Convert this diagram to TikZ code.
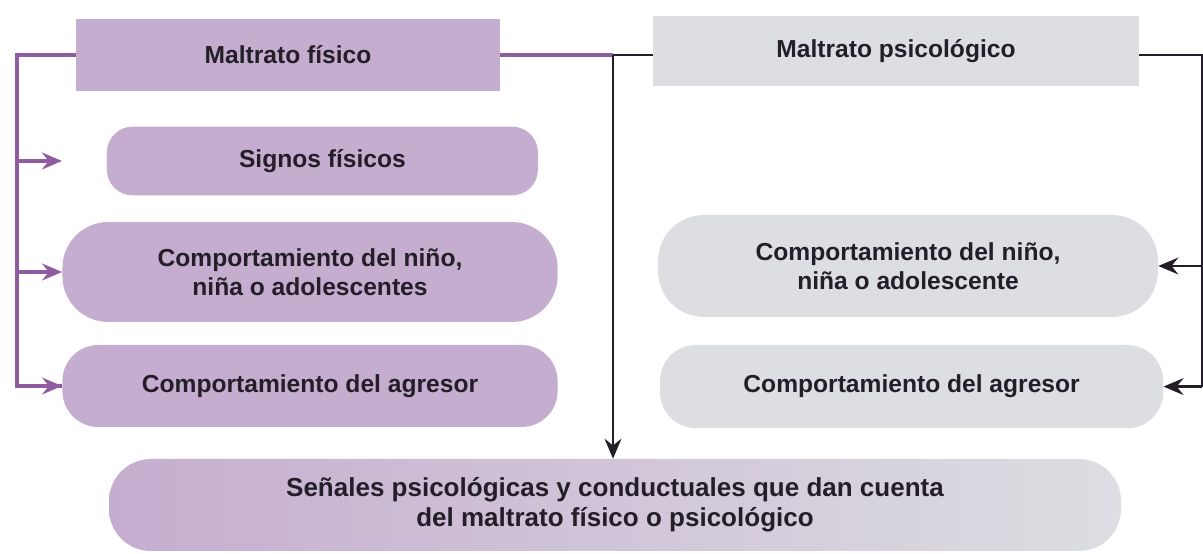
\documentclass[tikz,border=0pt]{standalone}
\usepackage{fontspec}
\setmainfont{Liberation Sans}
\usetikzlibrary{arrows.meta}
\definecolor{lila}{HTML}{C5ADCF}
\definecolor{lilaline}{HTML}{8E5C9F}
\definecolor{gris}{HTML}{DCDEE2}
\definecolor{tinta}{HTML}{231E28}
\tikzset{>={Stealth[length=5mm, width=4.2mm, inset=1.7mm]}}
\tikzset{caja/.style={inner sep=0pt, align=center, text=tinta,
    font=\bfseries\fontsize{17.5}{20.5}\selectfont}}

\begin{document}
\begin{tikzpicture}
      \useasboundingbox[fill=white] (0, 0) rectangle (30.075, 13.825);
      \node[caja, fill=lila, minimum width=10.6cm, minimum height=1.78cm] (fisico) at (7.2, 12.45) {Maltrato físico};
      \node[caja, fill=gris, minimum width=12.15cm, minimum height=1.75cm] (psico) at (22.4, 12.55) {Maltrato psicológico};
      \node[caja, fill=lila, rounded corners=0.65cm, minimum width=10.78cm, minimum height=1.72cm] (signos) at (8.06, 9.8) {Signos físicos};
      \node[caja, fill=lila, rounded corners=1.15cm, minimum width=12.38cm, minimum height=2.5cm] (ninoA) at (7.75, 7.025) {Comportamiento del niño,\\niña o adolescentes};
      \node[caja, fill=lila, rounded corners=0.9cm, minimum width=12.38cm, minimum height=2.05cm] (agresorA) at (7.75, 4.175) {Comportamiento del agresor};
      \node[caja, fill=gris, rounded corners=1.15cm, minimum width=12.5cm, minimum height=2.55cm] (ninoB) at (22.7, 7.175) {Comportamiento del niño,\\niña o adolescente};
      \node[caja, fill=gris, rounded corners=0.9cm, minimum width=12.58cm, minimum height=2.08cm] (agresorB) at (22.79, 4.16) {Comportamiento del agresor};
      \node[caja, font=\bfseries\fontsize{18.5}{21.5}\selectfont, left color=lila, right color=gris, rounded corners=1.05cm, minimum width=25.3cm, minimum height=2.3cm] (senales) at (15.375, 1.2) {Señales psicológicas y conductuales que dan cuenta\\del maltrato físico o psicológico};
      \coordinate (rielA) at (0.425, 0 |- agresorA);
      \coordinate (puntaA) at (1.55, 0 |- signos);
      \coordinate (cruce) at (15.325, 0 |- fisico);
      \coordinate (rielB) at (30.05, 0 |- fisico);
      \draw[lilaline, line width=1mm] (fisico.west) -| (rielA) -- (rielA -| agresorA.west);
      \draw[lilaline, line width=1mm, ->] (rielA |- signos) -- (puntaA);
      \draw[lilaline, line width=1mm, ->] (rielA |- ninoA) -- (ninoA.west);
      \draw[lilaline, line width=1mm, ->] (rielA) -- (agresorA.west);
      \draw[lilaline, line width=1mm] (fisico.east) -- (cruce);
      \draw[tinta, line width=0.65mm] (cruce) -- (cruce -| psico.west);
      \draw[tinta, line width=0.65mm, ->] (cruce) -- (senales.north -| cruce);
      \draw[tinta, line width=0.65mm] (psico.east |- rielB) -- (rielB) -- (rielB |- agresorB);
      \draw[tinta, line width=0.65mm, ->] (rielB |- ninoB) -- (ninoB.east);
      \draw[tinta, line width=0.65mm, ->] (rielB |- agresorB) -- (agresorB.east);
\end{tikzpicture}
\end{document}
